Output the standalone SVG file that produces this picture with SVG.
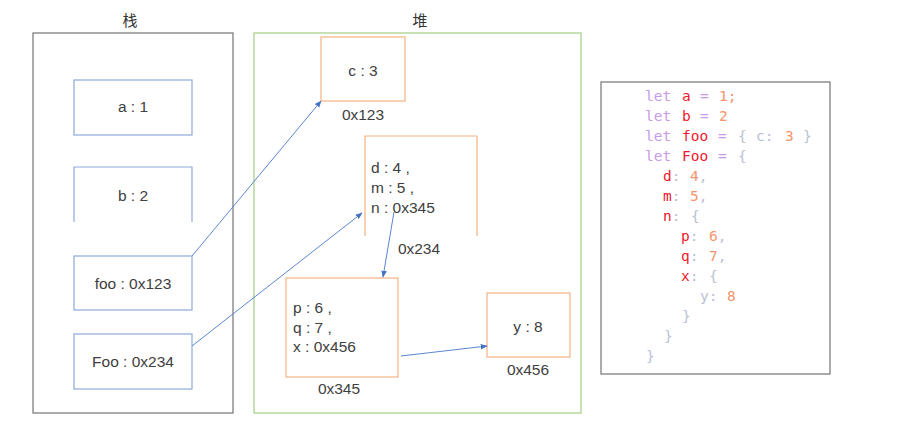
<svg xmlns="http://www.w3.org/2000/svg" width="903" height="428" viewBox="0 0 903 428">
<style>
.t{font-family:"Liberation Sans",Arial,"Noto Sans CJK SC",sans-serif;font-size:15.5px;fill:#404040}
.c{text-anchor:middle}
.ti{font-family:"Noto Sans CJK SC","Liberation Sans",sans-serif;font-size:15px;fill:#333;text-anchor:middle}
.sb{fill:#fff;stroke:#8eaadb;stroke-width:1.2}
.hb{fill:#fff;stroke:#f4b183;stroke-width:1.2}
.code{font-family:"DejaVu Sans Mono","Liberation Mono",monospace;font-size:14.5px}
.k{fill:#c79be6}
.v{fill:#f0182c}
.n{fill:#f5946c}
.p{fill:#b9c2d2}
.cn{fill:none;stroke:#5b86d1;stroke-width:1}
</style>
<defs>
<marker id="ah" viewBox="0 0 10 10" refX="9" refY="5" markerWidth="7" markerHeight="7" orient="auto" markerUnits="userSpaceOnUse">
<path d="M0,1 L10,5 L0,9 z" fill="#4472c4"/>
</marker>
</defs>
<g id="stack">
<rect x="33" y="33" width="200" height="380" fill="#fff" stroke="#7f7f7f" stroke-width="1.3"/>
<text class="ti" x="130" y="26">栈</text>
</g>
<g id="heap">
<rect x="254" y="33" width="327" height="380" fill="#fff" stroke="#a9d18e" stroke-width="1.3"/>
<text class="ti" x="420" y="26">堆</text>
</g>
<g id="node-a">
<rect class="sb" x="74" y="80" width="118" height="55"/>
<text class="t c" x="133" y="112">a : 1</text>
</g>
<g id="node-b">
<path d="M74,222 V167 H192 V222" fill="#fff" stroke="#8eaadb" stroke-width="1.2"/>
<text class="t c" x="133" y="201">b : 2</text>
</g>
<g id="node-foo">
<rect class="sb" x="74" y="256" width="118" height="54"/>
<text class="t c" x="133" y="289">foo : 0x123</text>
</g>
<g id="node-Foo">
<rect class="sb" x="74" y="334" width="118" height="55"/>
<text class="t c" x="133" y="367">Foo : 0x234</text>
</g>
<g id="node-c">
<rect class="hb" x="321" y="37" width="84" height="64"/>
<text class="t c" x="363" y="76">c : 3</text>
<text class="t c" x="363" y="120">0x123</text>
</g>
<g id="node-d">
<path d="M365,236 V136 H477 V236" fill="#fff" stroke="#f4b183" stroke-width="1.2"/>
<text class="t" x="371" y="173">d : 4 ,</text>
<text class="t" x="371" y="193">m : 5 ,</text>
<text class="t" x="371" y="213">n : 0x345</text>
<text class="t c" x="419" y="254">0x234</text>
</g>
<g id="node-p">
<rect class="hb" x="286" y="278" width="112" height="99"/>
<text class="t" x="293" y="313">p : 6 ,</text>
<text class="t" x="293" y="333">q : 7 ,</text>
<text class="t" x="293" y="352">x : 0x456</text>
<text class="t c" x="339" y="394">0x345</text>
</g>
<g id="node-y">
<rect class="hb" x="487" y="293" width="83" height="64"/>
<text class="t c" x="528" y="332">y : 8</text>
<text class="t c" x="528" y="375">0x456</text>
</g>
<g id="code">
<rect x="601" y="82" width="229" height="292" fill="#fff" stroke="#7f7f7f" stroke-width="1.3"/>
<text class="code" y="101"><tspan class="k" x="645">let</tspan><tspan class="v" x="682">a</tspan><tspan class="k" x="700">=</tspan><tspan class="n" x="719">1;</tspan></text>
<text class="code" y="121"><tspan class="k" x="645">let</tspan><tspan class="v" x="682">b</tspan><tspan class="k" x="700">=</tspan><tspan class="n" x="719">2</tspan></text>
<text class="code" y="141"><tspan class="k" x="645">let</tspan><tspan class="v" x="682">foo</tspan><tspan class="k" x="718">=</tspan><tspan class="p" x="738">{</tspan><tspan class="p" x="756">c:</tspan><tspan class="n" x="785">3</tspan><tspan class="p" x="803">}</tspan></text>
<text class="code" y="161"><tspan class="k" x="645">let</tspan><tspan class="v" x="682">Foo</tspan><tspan class="k" x="718">=</tspan><tspan class="p" x="738">{</tspan></text>
<text class="code" y="181"><tspan class="v" x="663">d</tspan><tspan class="p">:</tspan><tspan class="n" x="690">4</tspan><tspan class="p">,</tspan></text>
<text class="code" y="201"><tspan class="v" x="663">m</tspan><tspan class="p">:</tspan><tspan class="n" x="690">5</tspan><tspan class="p">,</tspan></text>
<text class="code" y="221"><tspan class="v" x="663">n</tspan><tspan class="p">:</tspan><tspan class="p" x="691">{</tspan></text>
<text class="code" y="241"><tspan class="v" x="681">p</tspan><tspan class="p">:</tspan><tspan class="n" x="709">6</tspan><tspan class="p">,</tspan></text>
<text class="code" y="261"><tspan class="v" x="681">q</tspan><tspan class="p">:</tspan><tspan class="n" x="709">7</tspan><tspan class="p">,</tspan></text>
<text class="code" y="281"><tspan class="v" x="681">x</tspan><tspan class="p">:</tspan><tspan class="p" x="709">{</tspan></text>
<text class="code" y="301"><tspan class="p" x="700">y:</tspan><tspan class="n" x="727">8</tspan></text>
<text class="code" y="321"><tspan class="p" x="682">}</tspan></text>
<text class="code" y="341"><tspan class="p" x="664">}</tspan></text>
<text class="code" y="361"><tspan class="p" x="646">}</tspan></text>
</g>
<g id="connectors">
<line class="cn" x1="192" y1="256" x2="321" y2="101" marker-end="url(#ah)"/>
<line class="cn" x1="192" y1="346" x2="362" y2="213" marker-end="url(#ah)"/>
<line class="cn" x1="394" y1="212" x2="383" y2="277" marker-end="url(#ah)"/>
<line class="cn" x1="401" y1="356" x2="487" y2="346" marker-end="url(#ah)"/>
</g>
</svg>
